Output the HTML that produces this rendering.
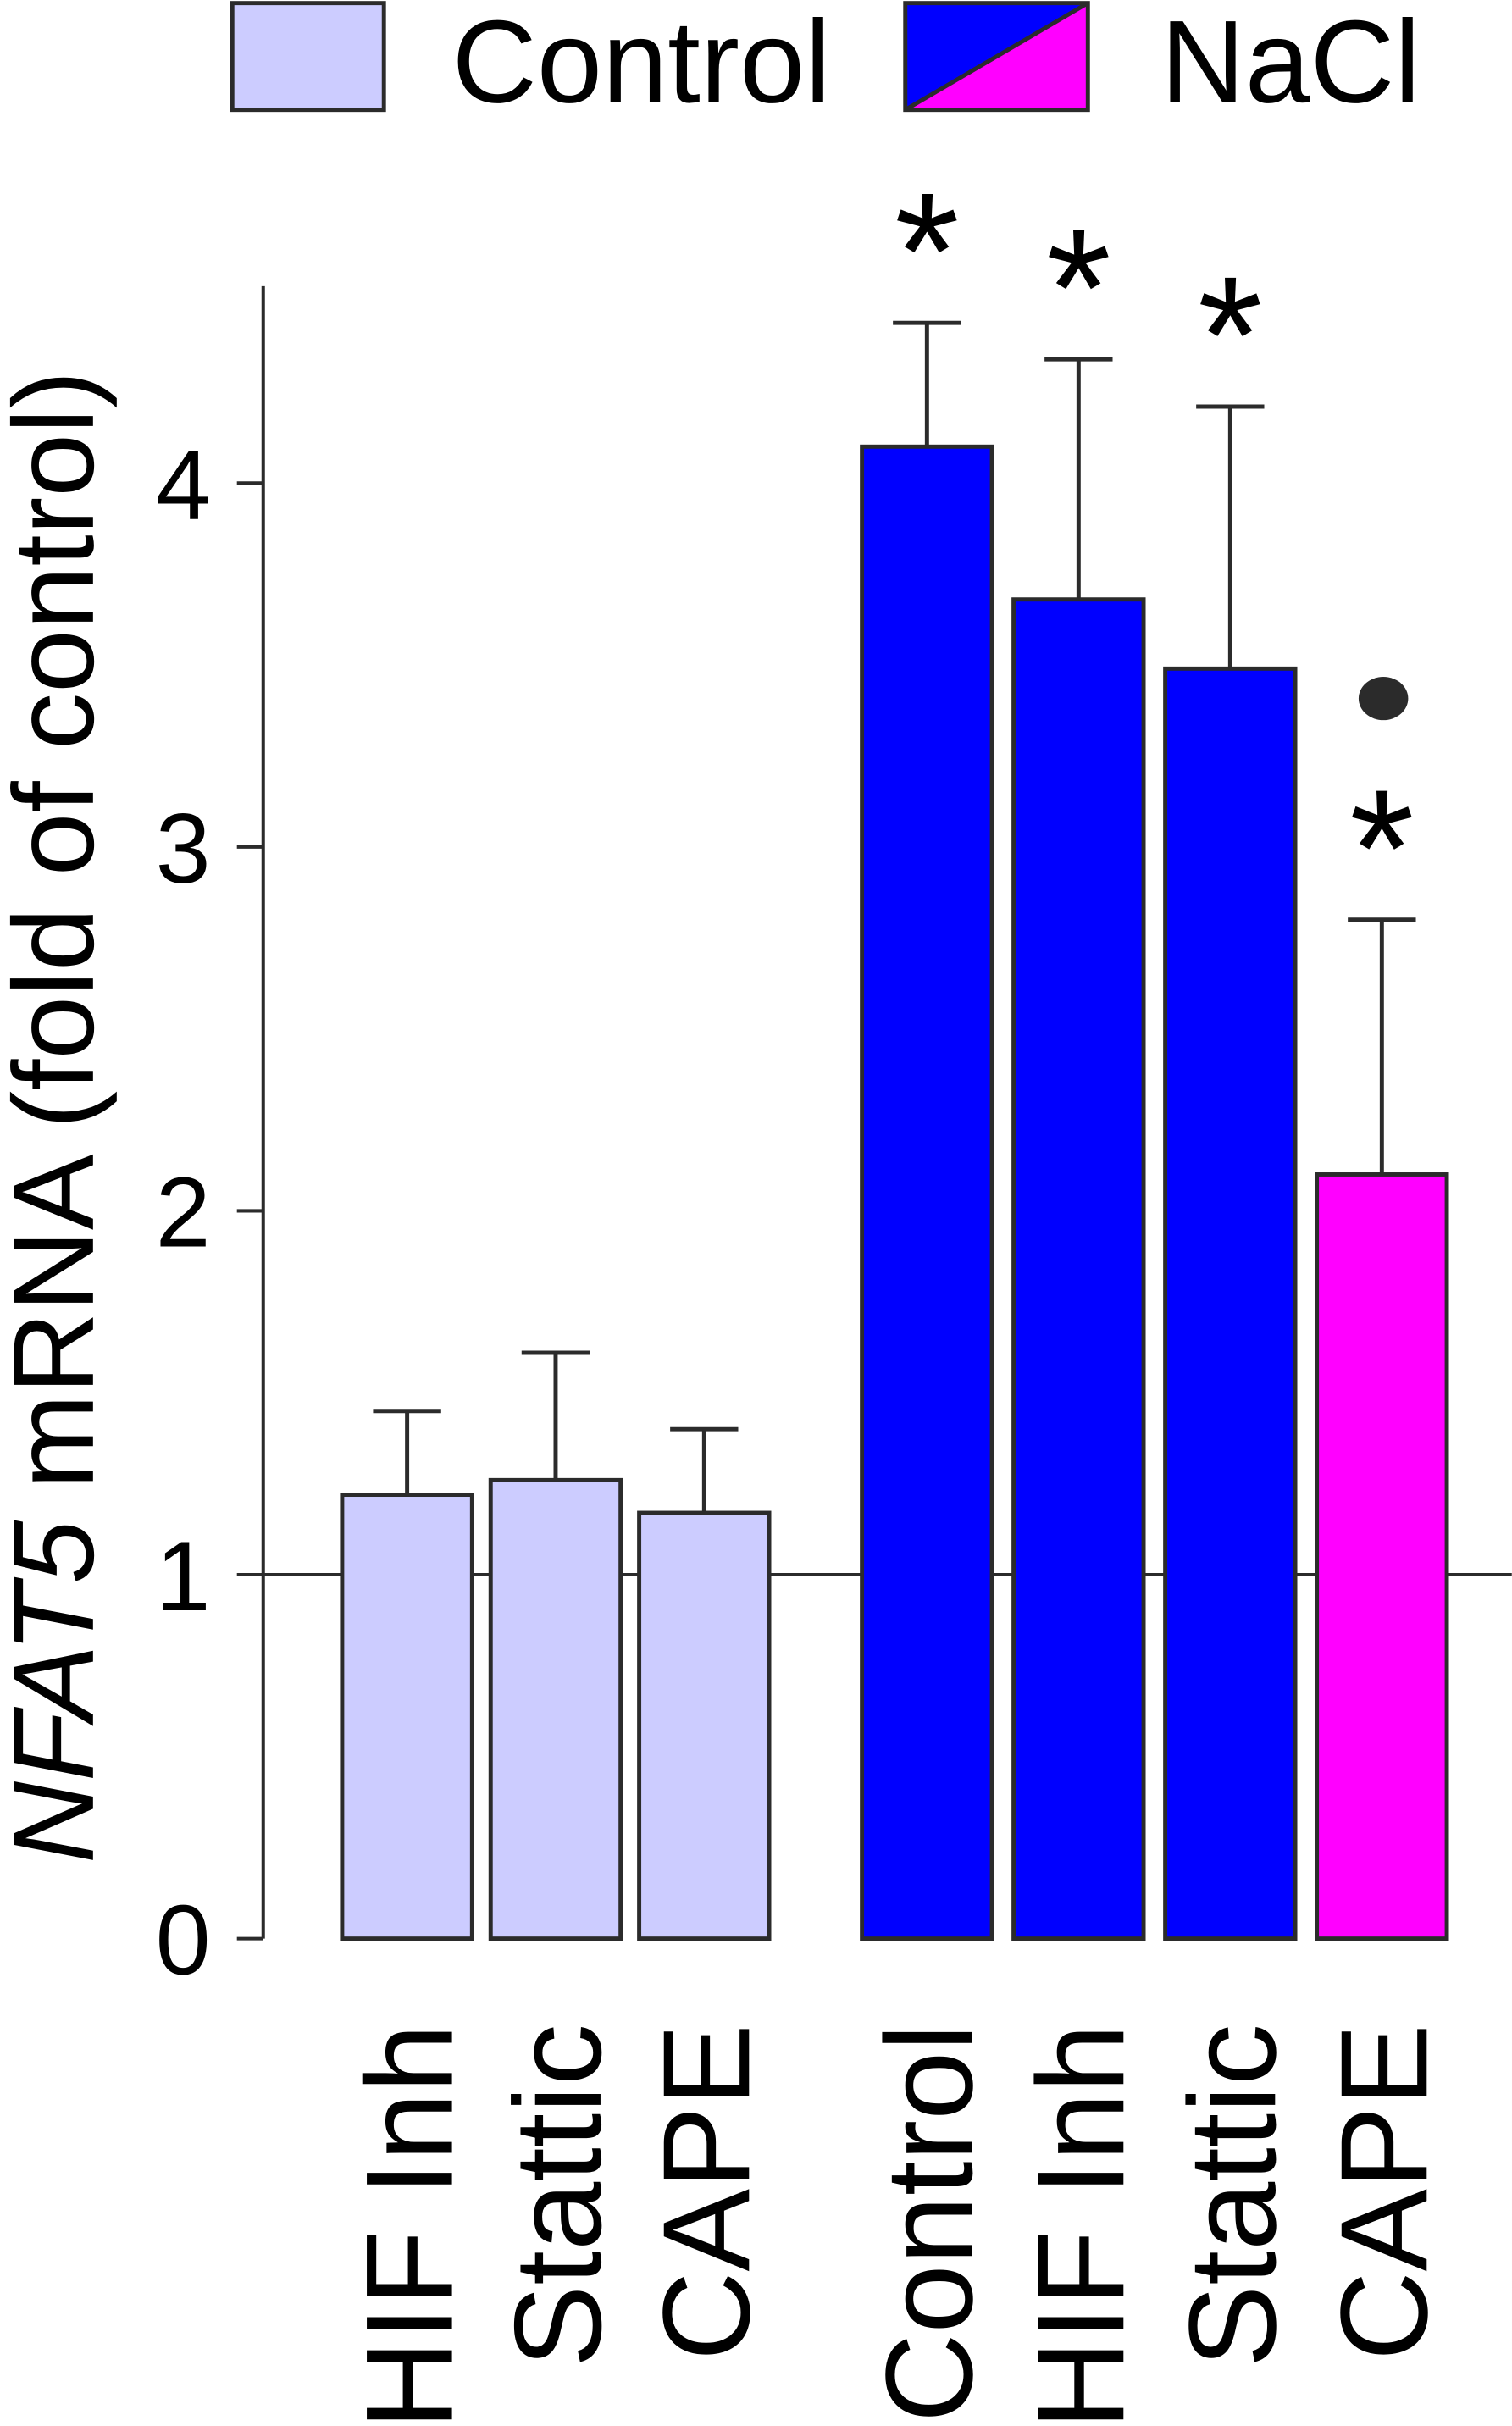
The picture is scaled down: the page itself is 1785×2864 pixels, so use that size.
<!DOCTYPE html>
<html><head><meta charset="utf-8"><style>
html,body{margin:0;padding:0;background:#fff;}
svg{display:block;}
text{font-family:"Liberation Sans",Arial,sans-serif;fill:#000;}
</style></head><body>
<svg id="chart" width="1785" height="2864" viewBox="0 0 977 1568" xmlns="http://www.w3.org/2000/svg">
<g>
  <rect x="150" y="2" width="98" height="69" fill="#ccccff" stroke="#2b2b2b" stroke-width="2.7"/>
  <text x="292" y="66" font-size="76" textLength="245" lengthAdjust="spacingAndGlyphs">Control</text>
  <g>
    <polygon points="585,2 703,2 585,71" fill="#0000ff"/>
    <polygon points="703,2 703,71 585,71" fill="#ff00ff"/>
    <line x1="703" y1="2" x2="585" y2="71" stroke="#2b2b2b" stroke-width="2.7"/>
    <rect x="585" y="2" width="118" height="69" fill="none" stroke="#2b2b2b" stroke-width="2.7"/>
  </g>
  <text x="750" y="66" font-size="76" textLength="168" lengthAdjust="spacingAndGlyphs">NaCl</text>
</g>
<g id="axes"></g>
<g id="marks"></g>
<text transform="translate(60,722) rotate(-90)" text-anchor="middle" font-size="74" textLength="965" lengthAdjust="spacingAndGlyphs"><tspan font-style="italic">NFAT5</tspan> mRNA (fold of control)</text>
</svg>
<script>
const categories = ["HIF Inh","Stattic","CAPE","Control","HIF Inh","Stattic","CAPE"];
const means = [1.22,1.26,1.17,4.10,3.68,3.49,2.10];
const errors = [0.23,0.35,0.23,0.34,0.66,0.72,0.70];
const colors = ["#ccccff","#ccccff","#ccccff","#0000ff","#0000ff","#0000ff","#ff00ff"];
const yTicks = [0,1,2,3,4];
const sigStar = [false,false,false,true,true,true,true];
const sigDot = [false,false,false,false,false,false,true];

const NS="http://www.w3.org/2000/svg";
const y0=1253, unit=235.2;
function yScale(v){return y0 - v*unit;}
const barLeft=[221,317,413,557,655,753,851], barW=84;
function xCenter(i){return barLeft[i]+barW/2;}
const axes=document.getElementById('axes'), marks=document.getElementById('marks');
function mk(tag,attrs,parent){const e=document.createElementNS(NS,tag);for(const k in attrs)e.setAttribute(k,attrs[k]);parent.appendChild(e);return e;}
const stroke="#2b2b2b";

let ax=mk('line',{x1:170,y1:185,x2:170,y2:y0,stroke:stroke,'stroke-width':2.2},axes);


let ref=mk('line',{x1:170,y1:yScale(1),x2:977,y2:yScale(1),stroke:stroke,'stroke-width':2.2},axes);


yTicks.forEach(t=>{
  const tk=mk('line',{x1:153,y1:yScale(t),x2:170,y2:yScale(t),stroke:stroke,'stroke-width':2.2},axes);
  
  
  const lb=mk('text',{x:136,y:yScale(t)+23,'text-anchor':'end','font-size':64},axes);
  lb.textContent=t;
  
  
});
categories.forEach((c,i)=>{
  const cx=xCenter(i), top=yScale(means[i]), et=yScale(means[i]+errors[i]);
  const eb=mk('line',{x1:cx,y1:top,x2:cx,y2:et,stroke:stroke,'stroke-width':2.7},marks);
  
  
  const cap=mk('line',{x1:cx-22,y1:et,x2:cx+22,y2:et,stroke:stroke,'stroke-width':2.7},marks);
  
  
  const r=mk('rect',{x:barLeft[i],y:top,width:barW,height:y0-top,fill:colors[i],stroke:stroke,'stroke-width':2.7},marks);
  
  
  const lab=mk('text',{transform:'translate('+(cx+29)+',1308) rotate(-90)','text-anchor':'end','font-size':80},marks);
  lab.textContent=c;
  
  
  let center=et-71;
  if(sigStar[i]){
    const s=mk('text',{x:cx,y:center+62,'text-anchor':'middle','font-size':108,'font-family':'DejaVu Sans, sans-serif',fill:'#2b2b2b'},marks);
    s.textContent='*';
    
    
    center-=72;
  }
  if(sigDot[i]){
    const d=mk('ellipse',{cx:cx+1,cy:center,rx:16,ry:14,fill:'#2b2b2b'},marks);
    
    
  }
});
</script>
</body></html>
